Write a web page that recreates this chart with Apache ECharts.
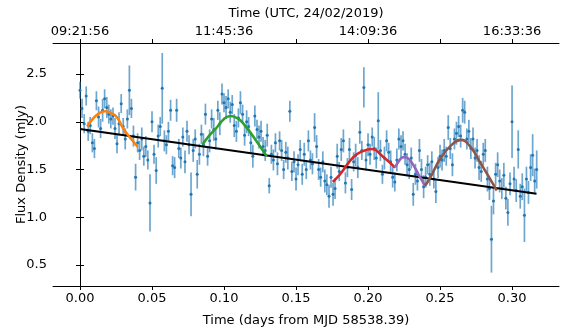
<!DOCTYPE html>
<html>
<head>
<meta charset="utf-8">
<script src="https://cdn.jsdelivr.net/npm/echarts@6/dist/echarts.min.js"></script>
<style>
html,body{margin:0;padding:0;background:#fff;}
#chart{width:568px;height:329px;}
</style>
</head>
<body>
<div id="chart"></div>
<script>
// observation times (days from MJD 58538.39)
var times = [0.0000,0.0014,0.0029,0.0043,0.0057,0.0071,0.0086,0.0100,0.0114,0.0129,0.0143,0.0157,0.0171,0.0186,0.0200,
 0.0214,0.0229,0.0243,0.0257,0.0271,0.0286,0.0300,0.0314,0.0329,0.0343,0.0357,0.0371,0.0386,0.0400,
 0.0414,0.0429,0.0443,0.0457,0.0471,0.0486,0.0500,0.0514,0.0529,0.0543,0.0557,0.0571,0.0586,0.0600,
 0.0614,0.0629,0.0643,0.0657,0.0671,0.0686,0.0700,0.0714,0.0729,0.0743,0.0757,0.0771,0.0786,0.0800,
 0.0814,0.0829,0.0843,0.0857,0.0871,0.0886,0.0900,0.0914,0.0929,0.0943,0.0957,0.0971,0.0986,0.1000,
 0.1014,0.1029,0.1043,0.1057,0.1071,0.1086,0.1100,0.1114,0.1129,0.1143,0.1157,0.1171,0.1186,0.1200,
 0.1214,0.1229,0.1243,0.1257,0.1271,0.1286,0.1300,0.1314,0.1329,0.1343,0.1357,0.1371,0.1386,0.1400,
 0.1414,0.1429,0.1443,0.1457,0.1471,0.1486,0.1500,0.1514,0.1529,0.1543,0.1557,0.1571,0.1586,0.1600,
 0.1614,0.1629,0.1643,0.1657,0.1671,0.1686,0.1700,0.1714,0.1729,0.1743,0.1757,0.1771,0.1786,0.1800,
 0.1814,0.1829,0.1843,0.1857,0.1871,0.1886,0.1900,0.1914,0.1929,0.1943,0.1957,0.1971,0.1986,0.2000,
 0.2014,0.2029,0.2043,0.2057,0.2071,0.2086,0.2100,0.2114,0.2129,0.2143,0.2157,0.2171,0.2186,0.2200,
 0.2214,0.2229,0.2243,0.2257,0.2271,0.2286,0.2300,0.2314,0.2329,0.2343,0.2357,0.2371,0.2386,0.2400,
 0.2414,0.2429,0.2443,0.2457,0.2471,0.2486,0.2500,0.2514,0.2529,0.2543,0.2557,0.2571,0.2586,0.2600,
 0.2614,0.2629,0.2643,0.2657,0.2671,0.2686,0.2700,0.2714,0.2729,0.2743,0.2757,0.2771,0.2786,0.2800,
 0.2814,0.2829,0.2843,0.2857,0.2871,0.2886,0.2900,0.2914,0.2929,0.2943,0.2957,0.2971,0.2986,0.3000,
 0.3014,0.3029,0.3043,0.3057,0.3071,0.3086,0.3100,0.3114,0.3129,0.3143,0.3157,0.3171];

// flux density (mJy)
var flux = [2.33,2.14,1.98,2.27,1.90,1.96,1.78,1.72,2.22,2.05,1.93,2.12,2.24,2.15,2.08,
 2.03,2.06,1.93,1.77,1.98,2.19,1.95,1.82,2.03,2.33,2.14,1.85,1.42,1.78,
 1.70,1.82,1.64,1.74,1.60,1.15,2.00,1.66,1.49,1.85,1.95,2.35,1.80,1.76,
 1.90,2.12,1.54,1.52,2.12,1.72,1.62,1.84,1.58,1.90,1.76,1.24,1.70,1.82,
 1.45,1.66,1.87,1.76,2.08,1.64,1.80,2.03,1.92,1.82,2.12,1.98,2.29,2.20,
 2.15,2.24,2.10,2.18,1.96,1.90,2.04,2.20,2.08,1.86,2.00,1.95,1.78,1.64,
 2.06,1.92,1.84,1.90,1.74,1.70,1.86,1.33,1.66,1.60,1.78,1.56,1.80,1.70,
 1.50,1.68,1.62,2.11,1.48,1.58,1.40,1.55,1.71,1.45,1.66,1.50,1.80,1.60,
 1.56,1.94,1.74,1.50,1.42,1.58,1.38,1.34,1.22,1.42,1.24,1.30,1.64,1.48,
 1.71,1.80,1.36,1.52,1.71,1.29,1.58,1.65,1.52,1.89,1.70,2.36,1.60,1.76,
 1.66,1.84,1.72,1.62,2.01,1.70,1.45,1.62,1.80,1.68,1.58,1.42,1.37,1.60,
 1.82,1.74,1.80,1.66,1.55,1.50,1.62,1.24,1.45,1.38,1.70,1.50,1.32,1.42,
 1.55,1.45,1.58,1.40,1.27,1.52,1.64,1.60,1.70,1.64,1.94,1.72,1.55,1.82,
 1.88,1.95,1.85,2.12,2.10,1.82,1.90,1.72,1.82,1.62,1.70,1.52,1.48,1.66,
 1.70,1.40,1.30,0.77,1.17,1.45,1.55,1.38,1.30,1.44,1.20,1.05,1.35,2.00,
 1.40,1.28,1.71,1.22,1.32,1.02,1.40,1.26,1.52,1.65,1.38,1.50];

// 1-sigma errors (mJy)
var fluxErr = [0.09,0.10,0.10,0.10,0.10,0.09,0.10,0.10,0.10,0.11,0.10,0.12,0.10,0.11,0.10,
 0.10,0.09,0.11,0.10,0.12,0.10,0.09,0.11,0.10,0.26,0.10,0.11,0.14,0.10,
 0.10,0.12,0.10,0.11,0.10,0.30,0.11,0.10,0.14,0.12,0.10,0.37,0.11,0.10,
 0.10,0.11,0.10,0.11,0.12,0.10,0.11,0.10,0.12,0.11,0.10,0.23,0.12,0.10,
 0.15,0.11,0.10,0.12,0.11,0.10,0.12,0.10,0.12,0.11,0.10,0.12,0.11,0.10,
 0.12,0.10,0.11,0.10,0.12,0.11,0.10,0.12,0.10,0.11,0.12,0.10,0.11,0.12,
 0.11,0.10,0.12,0.11,0.10,0.11,0.12,0.08,0.10,0.11,0.10,0.12,0.10,0.11,
 0.10,0.11,0.12,0.11,0.10,0.11,0.12,0.11,0.10,0.11,0.12,0.10,0.11,0.10,
 0.11,0.15,0.12,0.11,0.10,0.11,0.12,0.11,0.12,0.11,0.12,0.11,0.13,0.10,
 0.12,0.12,0.11,0.10,0.12,0.11,0.10,0.12,0.11,0.12,0.10,0.21,0.11,0.12,
 0.11,0.10,0.12,0.11,0.30,0.11,0.10,0.12,0.11,0.10,0.12,0.11,0.10,0.12,
 0.11,0.12,0.10,0.11,0.12,0.10,0.11,0.12,0.11,0.10,0.12,0.11,0.12,0.11,
 0.10,0.12,0.11,0.10,0.12,0.11,0.12,0.11,0.12,0.10,0.13,0.11,0.12,0.11,
 0.12,0.11,0.12,0.13,0.12,0.11,0.12,0.11,0.12,0.11,0.12,0.13,0.11,0.12,
 0.12,0.13,0.12,0.35,0.14,0.12,0.13,0.12,0.11,0.13,0.12,0.14,0.12,0.38,
 0.13,0.12,0.20,0.13,0.14,0.28,0.13,0.12,0.14,0.22,0.13,0.20];

// linear trend and fitted arcs, [time, flux]
var trendLine = [[0.0, 1.925], [0.317, 1.245]];
var fitOrange = [[0.005,1.95],[0.0095,2.04],[0.0135,2.09],[0.0175,2.11],[0.0215,2.09],[0.0255,2.05],[0.030,1.93],[0.035,1.83],[0.040,1.74]];
var fitGreen  = [[0.085,1.76],[0.090,1.86],[0.095,1.94],[0.100,2.03],[0.1046,2.06],[0.110,2.03],[0.1146,1.96],[0.1215,1.82],[0.1296,1.64]];
var fitRed    = [[0.1755,1.37],[0.1806,1.45],[0.1898,1.63],[0.196,1.69],[0.2026,1.715],[0.2106,1.63],[0.2188,1.52]];
var fitPurple = [[0.2188,1.52],[0.2215,1.59],[0.2245,1.63],[0.2275,1.62],[0.2303,1.575],[0.235,1.45],[0.2396,1.33]];
var fitBrown  = [[0.2396,1.33],[0.243,1.41],[0.250,1.61],[0.2575,1.75],[0.2644,1.81],[0.271,1.74],[0.2778,1.575],[0.2836,1.43],[0.2894,1.28]];

// tick positions and labels
var xTicks = [0, 0.05, 0.10, 0.15, 0.20, 0.25, 0.30];
var topLabelPos = [0, 0.10, 0.20, 0.30];
var topLabels = ['09:21:56', '11:45:36', '14:09:36', '16:33:36'];
var yTicks = [0.5, 1.0, 1.5, 2.0, 2.5];

var FONT = 'DejaVu Sans';
var points = [], bars = [];
for (var i = 0; i < times.length; i++) {
  points.push([times[i], flux[i]]);
  bars.push([times[i], flux[i], fluxErr[i]]);
}

var myChart = echarts.init(document.getElementById('chart'), null, {renderer: 'canvas'});

var axisLineStyle = {show: true, lineStyle: {color: '#000', width: 1}};
var tickStyle = {show: true, inside: false, length: 4, lineStyle: {color: '#000', width: 1}};

function fitSeries(data, color, width) {
  return {
    type: 'line', data: data, smooth: true, showSymbol: false, symbol: 'none',
    lineStyle: {color: color, width: width || 2.6}, z: 5, silent: true, animation: false
  };
}

var option = {
  animation: false,
  grid: {left: 53, right: 9, top: 43, bottom: 43, containLabel: false, outerBoundsMode: 'none'},
  xAxis: [{
    type: 'value', position: 'bottom', min: -0.01875, max: 0.3326,
    axisLine: axisLineStyle, splitLine: {show: false},
    axisTick: Object.assign({customValues: xTicks}, tickStyle),
    axisLabel: {customValues: xTicks, color: '#000', fontFamily: FONT, fontSize: 13, margin: 6,
      formatter: function (v) { return v.toFixed(2); }},
    name: 'Time (days from MJD 58538.39)', nameLocation: 'middle', nameGap: 28, nameMoveOverlap: false,
    nameTextStyle: {color: '#000', fontFamily: FONT, fontSize: 13}
  }, {
    type: 'value', position: 'top', min: -0.01875, max: 0.3326,
    axisLine: axisLineStyle, splitLine: {show: false},
    axisTick: Object.assign({customValues: xTicks}, tickStyle),
    axisLabel: {customValues: topLabelPos, color: '#000', fontFamily: FONT, fontSize: 13, margin: 5,
      formatter: function (v) {
        for (var k = 0; k < topLabelPos.length; k++) {
          if (Math.abs(v - topLabelPos[k]) < 1e-6) return topLabels[k];
        }
        return '';
      }},
    name: 'Time (UTC, 24/02/2019)', nameLocation: 'middle', nameGap: 23, nameMoveOverlap: false,
    nameTextStyle: {color: '#000', fontFamily: FONT, fontSize: 13}
  }],
  yAxis: [{
    type: 'value', position: 'left', min: 0.28, max: 2.825,
    axisLine: axisLineStyle, splitLine: {show: false},
    axisTick: Object.assign({customValues: yTicks}, tickStyle),
    axisLabel: {customValues: yTicks, color: '#000', fontFamily: FONT, fontSize: 13, margin: 6,
      formatter: function (v) { return v.toFixed(1); }},
    name: 'Flux Density (mJy)', nameLocation: 'middle', nameGap: 25, nameRotate: 90, nameMoveOverlap: false,
    nameTextStyle: {color: '#000', fontFamily: FONT, fontSize: 13}
  }, {
    type: 'value', position: 'right', min: 0.28, max: 2.825,
    axisLine: axisLineStyle, splitLine: {show: false},
    axisTick: Object.assign({customValues: yTicks}, tickStyle),
    axisLabel: {show: false}
  }],
  series: [{
    type: 'custom', xAxisIndex: 0, yAxisIndex: 0, data: bars, z: 2, silent: true,
    renderItem: function (params, api) {
      var x = api.value(0), y = api.value(1), e = api.value(2);
      var p1 = api.coord([x, y - e]);
      var p2 = api.coord([x, y + e]);
      return {
        type: 'line',
        shape: {x1: p1[0], y1: p1[1], x2: p2[0], y2: p2[1]},
        style: {stroke: 'rgba(31,119,180,0.65)', lineWidth: 1.7}
      };
    }
  }, {
    type: 'scatter', data: points, symbolSize: 3, z: 3, silent: true,
    itemStyle: {color: '#1f77b4', opacity: 1}
  },
  fitSeries(trendLine, '#000000', 2),
  fitSeries(fitOrange, '#ff7f0e'),
  fitSeries(fitGreen, '#2ca02c'),
  fitSeries(fitRed, '#d62728'),
  fitSeries(fitPurple, '#9467bd'),
  fitSeries(fitBrown, '#8c564b')
  ]
};

myChart.setOption(option);
</script>
</body>
</html>
